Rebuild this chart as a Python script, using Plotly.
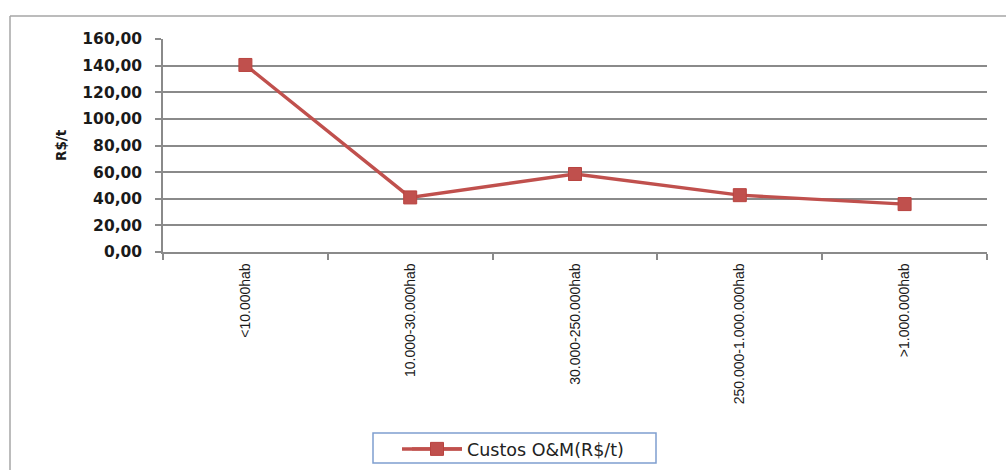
import plotly.graph_objects as go

# Population bands and O&M cost per tonne
categories = ["<10.000hab", "10.000-30.000hab", "30.000-250.000hab",
              "250.000-1.000.000hab", ">1.000.000hab"]
custos_om = [140.5, 41.0, 58.6, 42.7, 36.0]
series_name = "Custos O&M(R$/t)"
y_title = "R$/t"
y_ticks = [0, 20, 40, 60, 80, 100, 120, 140, 160]

W, H = 1006, 470
L, R, T, B = 163, 19, 39, 218

red = "#C0504D"
grid = "#8A8A8A"
ink = "#1a1a1a"

# pixel -> paper coordinate helpers
px_x = lambda v: (v - L) / (W - L - R)
px_y = lambda v: (H - B - v) / (H - T - B)

fig = go.Figure()
fig.add_trace(go.Scatter(
    x=categories, y=custos_om, name=series_name,
    mode="lines+markers",
    line=dict(color=red, width=3.4),
    marker=dict(symbol="square", size=13, color=red,
                line=dict(color="#B8433F", width=1)),
    showlegend=True,
))

fig.update_layout(
    width=W, height=H,
    margin=dict(l=L, r=R, t=T, b=B, pad=0, autoexpand=False),
    paper_bgcolor="white", plot_bgcolor="white",
    separators=",.",
    font=dict(family="DejaVu Sans, sans-serif", color=ink),
    showlegend=True,
    legend=dict(
        xref="container", yref="container",
        x=407 / W, xanchor="left", y=1 - 449 / H, yanchor="middle",
        orientation="v", borderwidth=0,
        font=dict(size=17.5, color="#222"),
        itemwidth=50,
        bgcolor="rgba(0,0,0,0)",
    ),
)

fig.update_xaxes(
    type="category", range=[-0.5, 4.5], automargin=False,
    tickson="boundaries", ticks="outside", ticklen=6, tickcolor=grid,
    tickwidth=1.5,
    showline=True, linecolor=grid, linewidth=1.5,
    showgrid=False, zeroline=False,
    tickangle=-90, ticklabelstandoff=4,
    tickfont=dict(family="Liberation Sans, Arial, sans-serif", size=14, color=ink),
    fixedrange=True,
)
fig.update_yaxes(
    range=[0, 160], tickvals=y_ticks, tickformat=".2f", automargin=False,
    ticks="outside", ticklen=6, tickcolor=grid, tickwidth=1.5,
    showline=True, linecolor=grid, linewidth=1.5,
    showgrid=True, gridcolor=grid, gridwidth=1.5,
    zeroline=False,
    tickfont=dict(size=15.5, color=ink, weight="bold"),
    ticklabelstandoff=10,
    fixedrange=True,
)

# Y-axis title
fig.add_annotation(text=y_title, xref="paper", yref="paper",
                   x=px_x(61), y=px_y(145), textangle=-90, showarrow=False,
                   xanchor="center", yanchor="middle",
                   font=dict(size=13.5, color=ink, weight="bold"))

# Outer chart-area frame (top and left edges)
frame = dict(color="#A6A6A6", width=1.5)
fig.add_shape(type="line", xref="paper", yref="paper",
              x0=px_x(10), x1=px_x(W), y0=px_y(16), y1=px_y(16), line=frame)
fig.add_shape(type="line", xref="paper", yref="paper",
              x0=px_x(10), x1=px_x(10), y0=px_y(16), y1=px_y(H), line=frame)

# Legend frame and the longer legend line sample
fig.add_shape(type="rect", xref="paper", yref="paper",
              x0=px_x(373), x1=px_x(656), y0=px_y(433), y1=px_y(463),
              line=dict(color="#7F9FCF", width=1.5), fillcolor="white",
              layer="above")
fig.add_shape(type="line", xref="paper", yref="paper",
              x0=px_x(402), x1=px_x(462), y0=px_y(449), y1=px_y(449),
              line=dict(color=red, width=3.4), layer="above")

fig.write_html("out.html")
